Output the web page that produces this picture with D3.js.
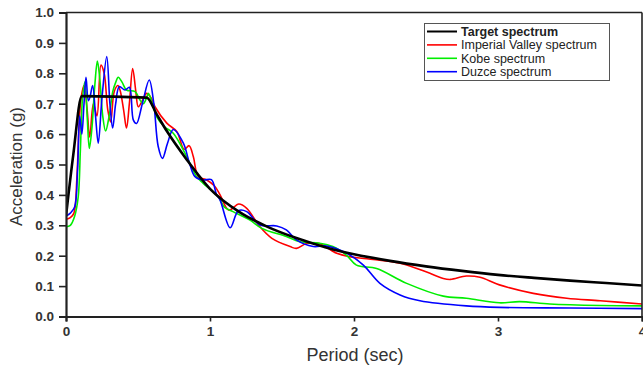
<!DOCTYPE html>
<html><head><meta charset="utf-8">
<script src="https://cdn.jsdelivr.net/npm/d3@7/dist/d3.min.js"></script>
<style>html,body{margin:0;padding:0;background:#fff;}svg{display:block;}</style>
</head><body>
<script>
const xTicks = [0, 1, 2, 3, 4];
const yTicks = [0, 0.1, 0.2, 0.3, 0.4, 0.5, 0.6, 0.7, 0.8, 0.9, 1.0];
const seriesNames = ["Target spectrum", "Imperial Valley spectrum", "Kobe spectrum", "Duzce spectrum"];
const seriesColors = ["#000000", "#ff0000", "#00ee00", "#0000ff"];

const target = [[0,0.33],[0.05,0.53],[0.11,0.725],[0.56,0.72],[0.63,0.665],[0.70,0.61],[0.84,0.515],[1.0,0.42],[1.2,0.345],[1.4,0.295],[1.6,0.258],[1.8,0.228],[2.0,0.205],[2.25,0.183],[2.5,0.165],[2.75,0.15],[3.0,0.137],[3.25,0.127],[3.5,0.118],[3.75,0.11],[4.0,0.102]];

const imperial = [[0,0.32],[0.03,0.325],[0.055,0.34],[0.075,0.45],[0.09,0.62],[0.105,0.72],[0.125,0.76],[0.145,0.69],[0.165,0.59],[0.19,0.70],[0.215,0.66],[0.243,0.827],[0.265,0.80],[0.29,0.68],[0.31,0.64],[0.335,0.74],[0.36,0.76],[0.375,0.745],[0.40,0.68],[0.42,0.62],[0.44,0.70],[0.463,0.816],[0.485,0.74],[0.502,0.69],[0.53,0.71],[0.56,0.734],[0.59,0.72],[0.618,0.69],[0.70,0.636],[0.77,0.608],[0.82,0.55],[0.855,0.562],[0.884,0.526],[0.919,0.46],[0.977,0.449],[1.03,0.43],[1.07,0.40],[1.13,0.35],[1.2,0.37],[1.255,0.356],[1.347,0.295],[1.43,0.257],[1.556,0.23],[1.6,0.224],[1.67,0.24],[1.76,0.24],[1.88,0.208],[1.97,0.197],[2.09,0.19],[2.32,0.175],[2.5,0.147],[2.62,0.125],[2.67,0.122],[2.78,0.133],[2.875,0.129],[3.01,0.104],[3.245,0.076],[3.477,0.06],[3.71,0.052],[4.0,0.041]];

const kobe = [[0,0.295],[0.03,0.30],[0.06,0.33],[0.085,0.394],[0.10,0.55],[0.115,0.72],[0.132,0.772],[0.148,0.65],[0.162,0.553],[0.18,0.62],[0.20,0.76],[0.218,0.84],[0.235,0.78],[0.255,0.66],[0.275,0.61],[0.30,0.66],[0.325,0.74],[0.345,0.77],[0.363,0.787],[0.39,0.77],[0.42,0.745],[0.48,0.74],[0.514,0.712],[0.537,0.70],[0.56,0.72],[0.572,0.734],[0.60,0.70],[0.63,0.657],[0.684,0.624],[0.745,0.603],[0.838,0.526],[0.907,0.46],[0.953,0.438],[1.058,0.394],[1.1,0.36],[1.16,0.345],[1.278,0.317],[1.36,0.29],[1.53,0.263],[1.625,0.246],[1.76,0.241],[1.853,0.23],[1.947,0.202],[2.017,0.169],[2.157,0.158],[2.366,0.109],[2.62,0.067],[2.78,0.06],[3.01,0.045],[3.15,0.049],[3.36,0.041],[3.71,0.036],[4.0,0.035]];

const duzce = [[0,0.33],[0.03,0.34],[0.06,0.36],[0.08,0.48],[0.095,0.66],[0.11,0.60],[0.125,0.70],[0.139,0.787],[0.155,0.71],[0.167,0.723],[0.185,0.76],[0.205,0.66],[0.224,0.57],[0.25,0.72],[0.283,0.855],[0.305,0.70],[0.324,0.62],[0.345,0.70],[0.37,0.756],[0.41,0.745],[0.44,0.754],[0.468,0.646],[0.49,0.635],[0.53,0.70],[0.578,0.778],[0.61,0.70],[0.64,0.56],[0.67,0.52],[0.705,0.57],[0.745,0.615],[0.815,0.57],[0.86,0.50],[0.896,0.46],[0.953,0.449],[1.01,0.45],[1.046,0.40],[1.07,0.383],[1.14,0.292],[1.197,0.348],[1.255,0.345],[1.347,0.301],[1.463,0.298],[1.53,0.285],[1.60,0.252],[1.717,0.23],[1.81,0.232],[1.95,0.208],[2.065,0.169],[2.18,0.109],[2.32,0.071],[2.458,0.052],[2.78,0.035],[3.01,0.03],[3.5,0.028],[4.0,0.026]];

const W = 643, H = 367;
const m = {left: 66, right: 1, top: 12.5, bottom: 50.5};
const svg = d3.select("body").append("svg").attr("width", W).attr("height", H);
const x = d3.scaleLinear().domain([0, 4]).range([m.left, W - m.right]);
const y = d3.scaleLinear().domain([0, 1]).range([H - m.bottom, m.top]);
const font = "'Liberation Sans', Arial, sans-serif";

svg.append("clipPath").attr("id", "c").append("rect")
  .attr("x", x(0)).attr("y", y(1)).attr("width", x(4) - x(0)).attr("height", y(0) - y(1));

const noisyLine = d3.line().x(d => x(d[0])).y(d => y(d[1])).curve(d3.curveCatmullRom.alpha(0.5));
const targetLine = d3.line().x(d => x(d[0])).y(d => y(d[1])).curve(d3.curveMonotoneX);
const g = svg.append("g").attr("clip-path", "url(#c)");
const data = [target, imperial, kobe, duzce];
[1, 2, 3, 0].forEach(i => {
  g.append("path").datum(data[i]).attr("d", i === 0 ? targetLine : noisyLine).attr("fill", "none")
    .attr("stroke", seriesColors[i]).attr("stroke-width", i === 0 ? 2.6 : 1.6)
    .attr("stroke-linejoin", "round");
});

svg.append("line").attr("x1", x(0)).attr("x2", x(4)).attr("y1", y(1)).attr("y2", y(1)).attr("stroke", "#222").attr("stroke-width", 1.6);
svg.append("line").attr("x1", x(4)).attr("x2", x(4)).attr("y1", y(1)).attr("y2", y(0)).attr("stroke", "#222").attr("stroke-width", 1.6);

const xAxis = svg.append("g").attr("transform", `translate(0,${y(0)})`)
  .call(d3.axisBottom(x).tickValues(xTicks).tickFormat(d3.format("d")).tickSize(5).tickPadding(5));
const yAxis = svg.append("g").attr("transform", `translate(${x(0)},0)`)
  .call(d3.axisLeft(y).tickValues(yTicks).tickFormat(d3.format(".1f")).tickSize(7).tickPadding(5));
[xAxis, yAxis].forEach(a => {
  a.select(".domain").attr("stroke", "#222").attr("stroke-width", 2.2);
  a.selectAll(".tick line").attr("stroke", "#222").attr("stroke-width", 1.6);
  a.selectAll("text").attr("font-family", font).attr("font-size", 13.5).attr("font-weight", "bold").attr("fill", "#333");
});

svg.append("text").attr("x", 355).attr("y", 361).attr("text-anchor", "middle")
  .attr("font-family", font).attr("font-size", 18).attr("fill", "#333").text("Period (sec)");
svg.append("text").attr("transform", `translate(22,${(y(0)+y(1))/2 + 2}) rotate(-90)`).attr("text-anchor", "middle")
  .attr("font-family", font).attr("font-size", 17).attr("fill", "#333").text("Acceleration (g)");

const lg = svg.append("g");
lg.append("rect").attr("x", 424.5).attr("y", 23.5).attr("width", 185).attr("height", 57)
  .attr("fill", "#fff").attr("stroke", "#555").attr("stroke-width", 1);
seriesNames.forEach((n, i) => {
  const ly = 31.5 + i * 13.4;
  lg.append("line").attr("x1", 427).attr("x2", 457).attr("y1", ly).attr("y2", ly)
    .attr("stroke", seriesColors[i]).attr("stroke-width", i === 0 ? 2 : 1.6);
  lg.append("text").attr("x", 461).attr("y", ly + 4.2).attr("font-family", font).attr("font-size", 12.5)
    .attr("font-weight", i === 0 ? "bold" : "normal").attr("fill", "#222").text(n);
});
</script>
</body></html>
